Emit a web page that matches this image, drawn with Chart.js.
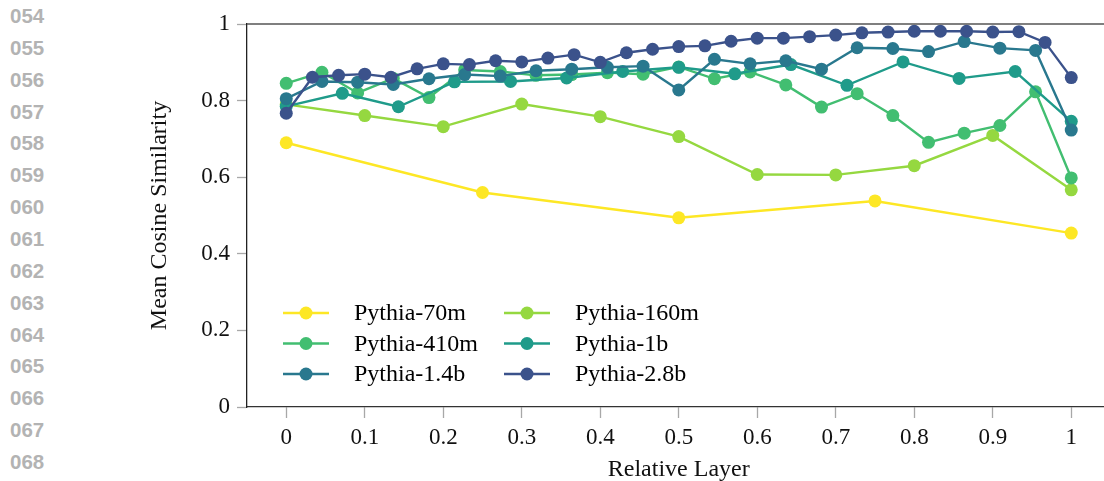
<!DOCTYPE html>
<html>
<head>
<meta charset="utf-8">
<script src="https://cdn.jsdelivr.net/npm/chart.js@4.4.0/dist/chart.umd.min.js"></script>
<style>
  html, body { margin: 0; padding: 0; background: #fff; overflow: hidden; width: 1104px; height: 481px; }
  #lines { position: absolute; left: 10px; top: 0; font: bold 20.5px "Liberation Sans", Arial, sans-serif; color: #b3b3b3; }
  #lines div { position: absolute; left: 0; height: 31px; line-height: 31px; }
  canvas { position: absolute; left: 0; top: 0; }
</style>
</head>
<body>
<div id="lines"></div>
<canvas id="chart" width="1120" height="481"></canvas>
<script>
// margin line numbers
const lineNumbers = ['054', '055', '056', '057', '058', '059', '060', '061', '062', '063', '064', '065', '066', '067', '068'];

const xTicks = [0, 0.1, 0.2, 0.3, 0.4, 0.5, 0.6, 0.7, 0.8, 0.9, 1];
const yTicks = [0, 0.2, 0.4, 0.6, 0.8, 1];

// mean cosine similarity per layer, first to last
const pythia70m = [0.69, 0.56, 0.494, 0.538, 0.454];
const pythia160m = [0.79, 0.761, 0.732, 0.791, 0.758, 0.706, 0.607, 0.606, 0.630, 0.709, 0.567];
const pythia410m = [0.845, 0.874, 0.820, 0.858, 0.808, 0.880, 0.876, 0.866, 0.868, 0.873, 0.869, 0.888,
  0.857, 0.875, 0.841, 0.783, 0.818, 0.761, 0.691, 0.715, 0.735, 0.823, 0.598];
const pythia1b = [0.785, 0.819, 0.784, 0.849, 0.850, 0.859, 0.876, 0.887, 0.870, 0.894, 0.840, 0.901,
  0.858, 0.876, 0.746];
const pythia1p4b = [0.805, 0.850, 0.848, 0.842, 0.857, 0.868, 0.864, 0.878, 0.882, 0.887, 0.890, 0.828,
  0.908, 0.896, 0.904, 0.882, 0.938, 0.936, 0.928, 0.954, 0.937, 0.931, 0.723];
const pythia2p8b = [0.767, 0.861, 0.866, 0.869, 0.861, 0.883, 0.896, 0.894, 0.904, 0.901, 0.911, 0.920,
  0.900, 0.925, 0.934, 0.941, 0.943, 0.955, 0.963, 0.963, 0.967, 0.971, 0.977, 0.979, 0.981, 0.981,
  0.981, 0.979, 0.980, 0.952, 0.860];

const seriesNames = ['Pythia-70m', 'Pythia-160m', 'Pythia-410m', 'Pythia-1b', 'Pythia-1.4b', 'Pythia-2.8b'];
const seriesValues = [pythia70m, pythia160m, pythia410m, pythia1b, pythia1p4b, pythia2p8b];
const seriesColors = ['#fde725', '#95d840', '#42be71', '#1f9b8a', '#29788e', '#3b528b'];

const linesBox = document.getElementById('lines');
lineNumbers.forEach((n, i) => {
  const d = document.createElement('div');
  d.textContent = n;
  d.style.top = (i * 31.86) + 'px';
  linesBox.appendChild(d);
});

// x is the relative depth of each layer: index / (layers - 1)
const datasets = seriesValues.map((vals, i) => ({
  label: seriesNames[i],
  data: vals.map((v, k) => ({ x: k / (vals.length - 1), y: v })),
  borderColor: seriesColors[i],
  backgroundColor: seriesColors[i],
  borderWidth: 2.4,
  pointRadius: 6.5,
  pointBorderWidth: 0,
  pointHoverRadius: 6.5,
  tension: 0,
  order: seriesValues.length - i
}));

const serif = '"Liberation Serif", "Times New Roman", serif';

// top frame line and the in-plot legend
const frameAndLegend = {
  id: 'frameAndLegend',
  afterDraw(chart) {
    const { ctx, chartArea } = chart;
    ctx.save();
    ctx.strokeStyle = '#555';
    ctx.lineWidth = 1.4;
    ctx.beginPath();
    ctx.moveTo(chartArea.left, chartArea.top);
    ctx.lineTo(chartArea.right, chartArea.top);
    ctx.stroke();

    const colX = [283, 504];
    const rowY = [313, 343.5, 374];
    ctx.font = '24px ' + serif;
    ctx.textBaseline = 'middle';
    ctx.textAlign = 'left';
    chart.data.datasets.forEach((ds, i) => {
      const x = colX[i % 2];
      const y = rowY[Math.floor(i / 2)];
      ctx.strokeStyle = ds.borderColor;
      ctx.lineWidth = 2.6;
      ctx.beginPath();
      ctx.moveTo(x, y);
      ctx.lineTo(x + 46, y);
      ctx.stroke();
      ctx.fillStyle = ds.backgroundColor;
      ctx.beginPath();
      ctx.arc(x + 23, y, 6.5, 0, Math.PI * 2);
      ctx.fill();
      ctx.fillStyle = '#000';
      ctx.fillText(ds.label, x + 71, y + 1);
    });
    ctx.restore();
  }
};

new Chart(document.getElementById('chart'), {
  type: 'line',
  data: { datasets },
  options: {
    responsive: false,
    animation: false,
    layout: { padding: { top: 24, right: 9.5, bottom: 0, left: 0 } },
    plugins: { legend: { display: false }, tooltip: { enabled: false } },
    scales: {
      x: {
        type: 'linear',
        min: -0.05,
        max: 1.05,
        afterBuildTicks: s => { s.ticks = xTicks.map(v => ({ value: v })); },
        afterFit: s => { s.height = 74; },
        grid: { drawOnChartArea: false, tickLength: 11, tickColor: '#a8a8a8', tickWidth: 1.3 },
        border: { color: '#333', width: 1.3 },
        ticks: { font: { family: serif, size: 23 }, color: '#111', padding: 6, maxRotation: 0, callback: v => String(v) },
        title: { display: true, text: 'Relative Layer', font: { family: serif, size: 24, lineHeight: 1 }, color: '#111', padding: { top: 0, bottom: -1 } }
      },
      y: {
        type: 'linear',
        min: 0,
        max: 1,
        afterBuildTicks: s => { s.ticks = yTicks.map(v => ({ value: v })); },
        afterFit: s => { s.width = 247; },
        grid: { drawOnChartArea: false, tickLength: 10, tickColor: '#a8a8a8', tickWidth: 1.3 },
        border: { color: '#222', width: 1.3 },
        ticks: { font: { family: serif, size: 23 }, color: '#111', padding: 7, callback: v => String(v) },
        title: { display: true, text: 'Mean Cosine Similarity', font: { family: serif, size: 24, lineHeight: 1.2 }, color: '#111', padding: { top: 145.6, bottom: 0 } }
      }
    }
  },
  plugins: [frameAndLegend]
});
</script>
</body>
</html>
